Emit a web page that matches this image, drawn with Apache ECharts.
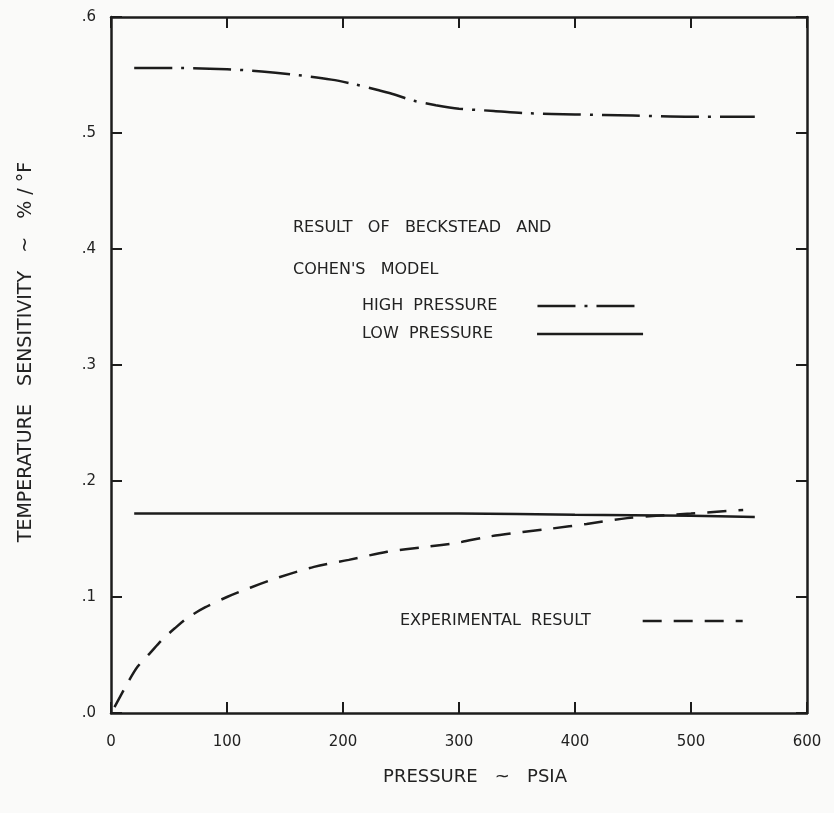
<!DOCTYPE html>
<html>
<head>
<meta charset="utf-8">
<script src="https://cdn.jsdelivr.net/npm/echarts@6/dist/echarts.min.js"></script>
<style>
html,body{margin:0;padding:0;background:#fafaf9;}
#chart{width:834px;height:813px;}
</style>
</head>
<body>
<div id="chart"></div>
<script>
// ---- data ----
const xTicks = [0, 100, 200, 300, 400, 500, 600];
const yTicks = [0, 0.1, 0.2, 0.3, 0.4, 0.5, 0.6];

const highP_x = [20, 60, 100, 130, 160, 190, 210, 230, 245, 260, 280, 300, 330, 360, 400, 450, 500, 555];
const highP_y = [0.556, 0.556, 0.555, 0.553, 0.550, 0.546, 0.542, 0.537, 0.533, 0.528, 0.524, 0.521, 0.519, 0.517, 0.516, 0.515, 0.514, 0.514];

const lowP_x = [20, 100, 200, 300, 400, 500, 555];
const lowP_y = [0.172, 0.172, 0.172, 0.172, 0.171, 0.170, 0.169];

const exp_x = [3, 15, 23, 34, 44, 55, 66, 81, 100, 120, 145, 175, 205, 238, 270, 300, 325, 355, 380, 410, 445, 470, 500, 545];
const exp_y = [0.005, 0.027, 0.040, 0.052, 0.063, 0.073, 0.082, 0.091, 0.100, 0.108, 0.117, 0.126, 0.132, 0.139, 0.143, 0.147, 0.152, 0.156, 0.159, 0.163, 0.168, 0.170, 0.172, 0.175];

const names = ['HIGH PRESSURE', 'LOW PRESSURE', 'EXPERIMENTAL RESULT'];

// ---- chart ----
const FONT = 'DejaVu Sans';
const INK = '#1c1c1c';
const TXT = '#222';
const DASH_HIGH = [38, 9, 3, 9];
const DASH_EXP = [19, 12];
const pairs = (xs, ys) => xs.map((x, i) => [x, ys[i]]);

const axisLine = {show: true, onZero: false, lineStyle: {color: INK, width: 2.5}};
const axisTick = {show: true, inside: true, length: 11, lineStyle: {color: INK, width: 2}};

function legendFor(name, left, top, padRight, dash, width) {
  return {
    data: [name], left, top, padding: 0, align: 'right', selectedMode: false,
    itemWidth: width, itemHeight: 14,
    itemStyle: {color: 'rgba(0,0,0,0)', borderWidth: 0, opacity: 0},
    lineStyle: {color: INK, width: 2.5, type: dash, opacity: 1},
    formatter: n => n.replace(' ', '  '),
    textStyle: {fontSize: 16, fontFamily: FONT, color: TXT, padding: [0, padRight, 0, 0]}
  };
}

const chart = echarts.init(document.getElementById('chart'));
chart.setOption({
  backgroundColor: '#fafaf9',
  animation: false,
  grid: {left: 111, top: 17, right: 27, bottom: 100, containLabel: false},
  xAxis: [
    {type: 'value', min: 0, max: 600, interval: 100, position: 'bottom',
     axisLine, axisTick, splitLine: {show: false},
     axisLabel: {margin: 22, fontSize: 15, fontFamily: FONT, color: TXT,
       formatter: v => xTicks.includes(v) ? String(v) : ''}},
    {type: 'value', min: 0, max: 600, interval: 100, position: 'top',
     axisLine, axisTick, splitLine: {show: false}, axisLabel: {show: false}}
  ],
  yAxis: [
    {type: 'value', min: 0, max: 0.6, interval: 0.1, position: 'left',
     axisLine, axisTick, splitLine: {show: false},
     axisLabel: {margin: 15, fontSize: 15, fontFamily: FONT, color: TXT,
       formatter: v => {
         const t = yTicks.find(k => Math.abs(k - v) < 1e-9);
         return t === undefined ? '' : '.' + Math.round(t * 10);
       }}},
    {type: 'value', min: 0, max: 0.6, interval: 0.1, position: 'right',
     axisLine, axisTick, splitLine: {show: false}, axisLabel: {show: false}}
  ],
  legend: [
    legendFor(names[0], 362, 298, 35, DASH_HIGH, 106),
    legendFor(names[1], 362, 326, 39, 'solid', 106),
    legendFor(names[2], 400, 613, 47, DASH_EXP, 100)
  ],
  series: [
    {name: names[0], type: 'line', symbol: 'none', showSymbol: false, smooth: 0.3,
     data: pairs(highP_x, highP_y),
     lineStyle: {color: INK, width: 2.5, type: DASH_HIGH}, itemStyle: {color: INK}},
    {name: names[1], type: 'line', symbol: 'none', showSymbol: false, smooth: 0.3,
     data: pairs(lowP_x, lowP_y),
     lineStyle: {color: INK, width: 2.5, type: 'solid'}, itemStyle: {color: INK}},
    {name: names[2], type: 'line', symbol: 'none', showSymbol: false, smooth: 0.3,
     data: pairs(exp_x, exp_y),
     lineStyle: {color: INK, width: 2.5, type: DASH_EXP}, itemStyle: {color: INK}}
  ],
  graphic: [
    {type: 'text', x: 293, y: 228,
     style: {text: 'RESULT   OF   BECKSTEAD   AND', fontSize: 16, fontFamily: FONT, fill: TXT,
             align: 'left', verticalAlign: 'middle'}},
    {type: 'text', x: 293, y: 270,
     style: {text: "COHEN'S   MODEL", fontSize: 16, fontFamily: FONT, fill: TXT,
             align: 'left', verticalAlign: 'middle'}},
    {type: 'text', x: 475, y: 777,
     style: {text: 'PRESSURE   ~   PSIA', fontSize: 18, fontFamily: FONT, fill: TXT,
             align: 'center', verticalAlign: 'middle'}},
    {type: 'text', x: 26, y: 352, rotation: Math.PI / 2,
     style: {text: 'TEMPERATURE   SENSITIVITY   ~   % / °F', fontSize: 19, fontFamily: FONT, fill: TXT,
             align: 'center', verticalAlign: 'middle'}}
  ]
});
</script>
</body>
</html>
